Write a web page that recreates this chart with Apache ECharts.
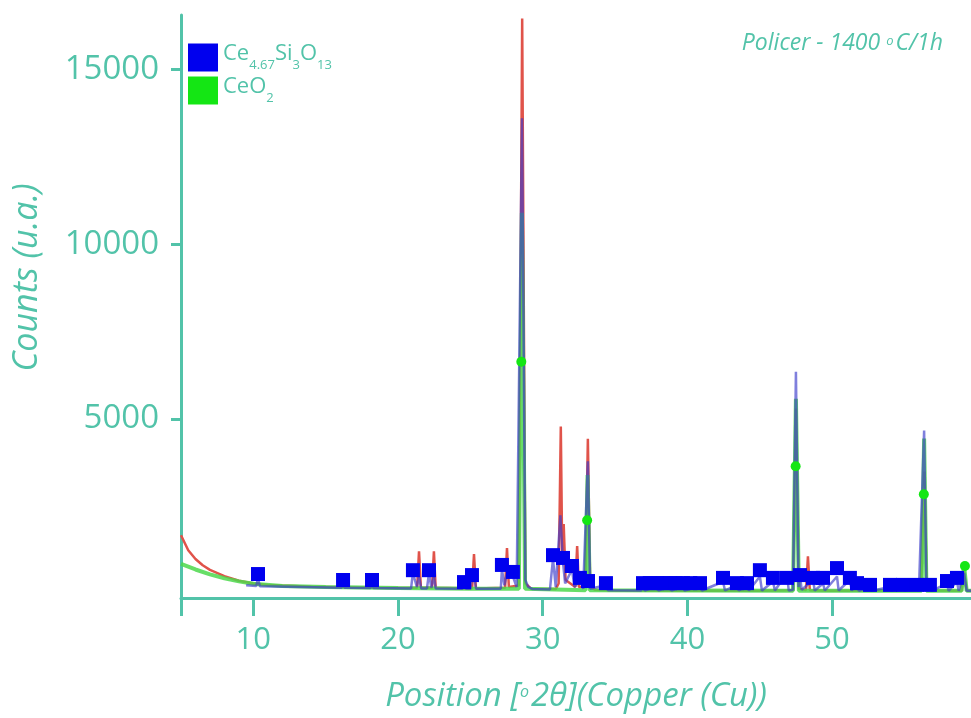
<!DOCTYPE html>
<html>
<head>
<meta charset="utf-8">
<script src="https://cdn.jsdelivr.net/npm/echarts@6/dist/echarts.min.js"></script>
<style>
html,body{margin:0;padding:0;background:#fff;}
#chart{width:971px;height:718px;}
</style>
</head>
<body>
<div id="chart"></div>
<script>
// ---- data (2θ in degrees, counts) ----
var xTickLabels = [10, 20, 30, 40, 50];
var yTickLabels = [5000, 10000, 15000];

// observed pattern (red)
var observed = [[5,1680],[5.5,1250],[6,1000],[6.5,820],[7,690],[8,510],[9,380],[10,300],[11,260],[12,240],[14,210],[16,195],[18,180],[20,170],[21.32,175],[21.45,1220],[21.58,180],[22.35,175],[22.48,1220],[22.6,175],[25.12,160],[25.25,1140],[25.38,160],[27.4,175],[27.53,1310],[27.66,200],[28.35,240],[28.58,16450],[28.8,300],[29.2,150],[30.9,140],[31.1,300],[31.25,4790],[31.35,1000],[31.45,2000],[31.58,400],[32.25,200],[32.38,1370],[32.5,200],[32.95,200],[33.12,4440],[33.28,200],[33.6,120],[35,100],[40,90],[45,90],[47.3,110],[47.5,5300],[47.7,150],[48.2,110],[48.33,1080],[48.46,110],[50,90],[56.15,90],[56.38,3500],[56.55,100],[58.95,90],[59.12,700],[59.3,90],[59.6,90]];

// CeO2 calculated profile (green)
var ceo2Profile = [[5,860],[6,700],[7,560],[8,450],[9,360],[10,290],[12,230],[15,200],[20,170],[25,150],[28.35,150],[28.56,10900],[28.78,150],[32.95,110],[33.1,3400],[33.25,110],[47.3,90],[47.5,5580],[47.7,90],[56.18,90],[56.36,4440],[56.52,90],[58.95,90],[59.12,820],[59.3,90],[59.6,90]];

// Ce4.67Si3O13 calculated profile (blue)
var silicateProfile = [[9.5,250],[10.2,230],[10.32,450],[10.45,220],[16.1,180],[16.2,350],[16.3,180],[18.1,170],[18.2,350],[18.3,170],[20.9,160],[21.03,600],[21.3,200],[21.45,500],[21.6,160],[22.0,160],[22.14,600],[22.3,180],[22.48,500],[22.6,160],[24.45,150],[24.56,300],[24.7,150],[25.0,150],[25.11,450],[25.25,500],[25.4,150],[27.1,150],[27.18,700],[27.35,250],[27.53,600],[27.94,500],[28.2,200],[28.57,13600],[28.8,400],[29.0,200],[29.3,140],[30.5,130],[30.71,1000],[30.9,200],[31.22,2250],[31.4,900],[31.55,300],[32.02,700],[32.2,200],[32.57,400],[32.8,150],[33.12,3790],[33.28,150],[34.37,250],[34.5,110],[36.8,100],[36.93,250],[37.05,100],[37.9,220],[38.0,100],[38.79,220],[38.9,100],[39.69,220],[39.8,100],[40.87,220],[41.0,100],[42.46,350],[42.6,100],[43.42,250],[43.55,100],[44.12,250],[44.25,100],[45.01,500],[45.15,100],[45.91,350],[46.05,100],[46.88,600],[47.0,100],[47.3,120],[47.5,6350],[47.68,200],[47.78,500],[47.9,120],[48.68,400],[48.8,100],[49.37,300],[49.5,100],[50.34,500],[50.45,100],[51.23,400],[51.35,100],[51.72,250],[51.85,90],[52.62,200],[52.75,90],[54.0,200],[54.1,90],[54.9,200],[55.0,90],[55.86,200],[56.0,90],[56.36,4670],[56.52,100],[56.76,200],[56.9,90],[57.94,300],[58.05,90],[58.63,350],[58.75,90],[59.12,600],[59.3,90],[59.6,90]];

// reference peak markers
var silicatePos = [10.32,16.20,18.20,21.03,22.14,24.56,25.11,27.18,27.94,30.71,31.40,32.02,32.57,33.13,34.37,36.93,37.40,37.90,38.30,38.79,39.20,39.69,40.20,40.87,42.46,43.42,44.12,45.01,45.91,46.88,47.78,48.68,49.37,50.34,51.23,51.72,52.62,54.00,54.90,55.86,56.76,57.94,58.63];
var silicateH   = [570,400,400,680,680,340,540,830,630,1110,1030,800,460,370,310,310,310,310,310,310,310,310,310,310,460,310,310,680,460,460,540,460,460,740,460,310,260,260,260,260,260,370,460];
var ceo2Pos = [28.52, 33.07, 47.48, 56.34, 59.18];
var ceo2H   = [6640, 2110, 3650, 2850, 800];

var teal = '#52c3a9';
var font = "'Open Sans', sans-serif";

var silicateMarks = silicatePos.map(function(p,i){return [p, silicateH[i]];});
var ceo2Marks = ceo2Pos.map(function(p,i){return [p, ceo2H[i]];});

var chart = echarts.init(document.getElementById('chart'), null, {renderer:'canvas'});
chart.setOption({
  animation: false,
  backgroundColor: '#ffffff',
  title: {
    text: '{t|Policer - 1400 }{o|o}{t|C/1h}',
    right: 23, top: 27,
    textStyle: {
      fontWeight: 'normal',
      rich: {
        t: {fontSize: 23, fontStyle: 'italic', fontWeight: 'normal', color: teal, fontFamily: font, verticalAlign: 'top'},
        o: {fontSize: 13, fontStyle: 'italic', fontWeight: 'normal', color: teal, fontFamily: font, verticalAlign: 'top', padding:[3,2,0,0]}
      }
    }
  },
  legend: {
    orient: 'vertical',
    left: 183, top: 38,
    itemWidth: 30, itemHeight: 28, itemGap: 4,
    icon: 'rect',
    data: ['Ce4.67Si3O13', 'CeO2'],
    formatter: function(name){
      return name === 'CeO2' ? '{n|CeO}{s|2}' : '{n|Ce}{s|4.67}{n|Si}{s|3}{n|O}{s|13}';
    },
    textStyle: {
      color: teal,
      rich: {
        n: {fontSize: 22, color: teal, fontFamily: font, verticalAlign: 'bottom', padding: [0,0,7,0]},
        s: {fontSize: 13, color: teal, fontFamily: font, verticalAlign: 'bottom'}
      }
    }
  },
  grid: {left: 181, right: 0, top: 15, bottom: 118},
  xAxis: {
    type: 'value', min: 5, max: 59.6,
    name: '{n|Position [}{o|o}{n|2θ](Copper (Cu))}',
    nameLocation: 'middle', nameGap: 82,
    nameTextStyle: {
      rich: {
        n: {fontSize: 33, fontStyle: 'italic', color: teal, fontFamily: font, verticalAlign: 'top'},
        o: {fontSize: 16, fontStyle: 'italic', color: teal, fontFamily: font, verticalAlign: 'top', padding: [4,2,0,0]}
      }
    },
    axisLine: {onZero: false, lineStyle: {color: teal, width: 3}},
    axisTick: {show: true, length: 18, lineStyle: {color: teal, width: 3}, customValues: [5].concat(xTickLabels)},
    axisLabel: {color: teal, fontSize: 31, fontFamily: font, margin: 27, customValues: xTickLabels},
    splitLine: {show: false}
  },
  yAxis: {
    type: 'value', min: -115, max: 16550,
    name: 'Counts (u.a.)',
    nameLocation: 'middle', nameGap: 137, nameRotate: 90,
    nameTextStyle: {fontSize: 34, fontStyle: 'italic', color: teal, fontFamily: font, padding: [0,0,0,58]},
    axisLine: {show: true, lineStyle: {color: teal, width: 3}},
    axisTick: {show: true, length: 10, lineStyle: {color: teal, width: 3}, customValues: yTickLabels},
    axisLabel: {color: teal, fontSize: 33, fontFamily: font, margin: 22, customValues: yTickLabels,
      formatter: function(v){ return String(v); }},
    splitLine: {show: false}
  },
  series: [
    {name: 'observed', type: 'line', data: observed, showSymbol: false, symbol: 'none',
     lineStyle: {color: '#e0534a', width: 2.5}, z: 2},
    {name: 'CeO2 profile', type: 'line', data: ceo2Profile, showSymbol: false, symbol: 'none',
     lineStyle: {color: '#4cd84c', width: 4, opacity: 0.85}, z: 3},
    {name: 'Ce4.67Si3O13 profile', type: 'line', data: silicateProfile, showSymbol: false, symbol: 'none',
     lineStyle: {color: '#3a3acb', width: 2.5, opacity: 0.65}, z: 4},
    {name: 'Ce4.67Si3O13', type: 'scatter', data: silicateMarks, symbol: 'rect', symbolSize: 14,
     itemStyle: {color: '#0000ee', opacity: 1}, z: 5},
    {name: 'CeO2', type: 'scatter', data: ceo2Marks, symbol: 'circle', symbolSize: 10,
     itemStyle: {color: '#14e614', opacity: 1}, z: 6}
  ]
});
</script>
</body>
</html>
